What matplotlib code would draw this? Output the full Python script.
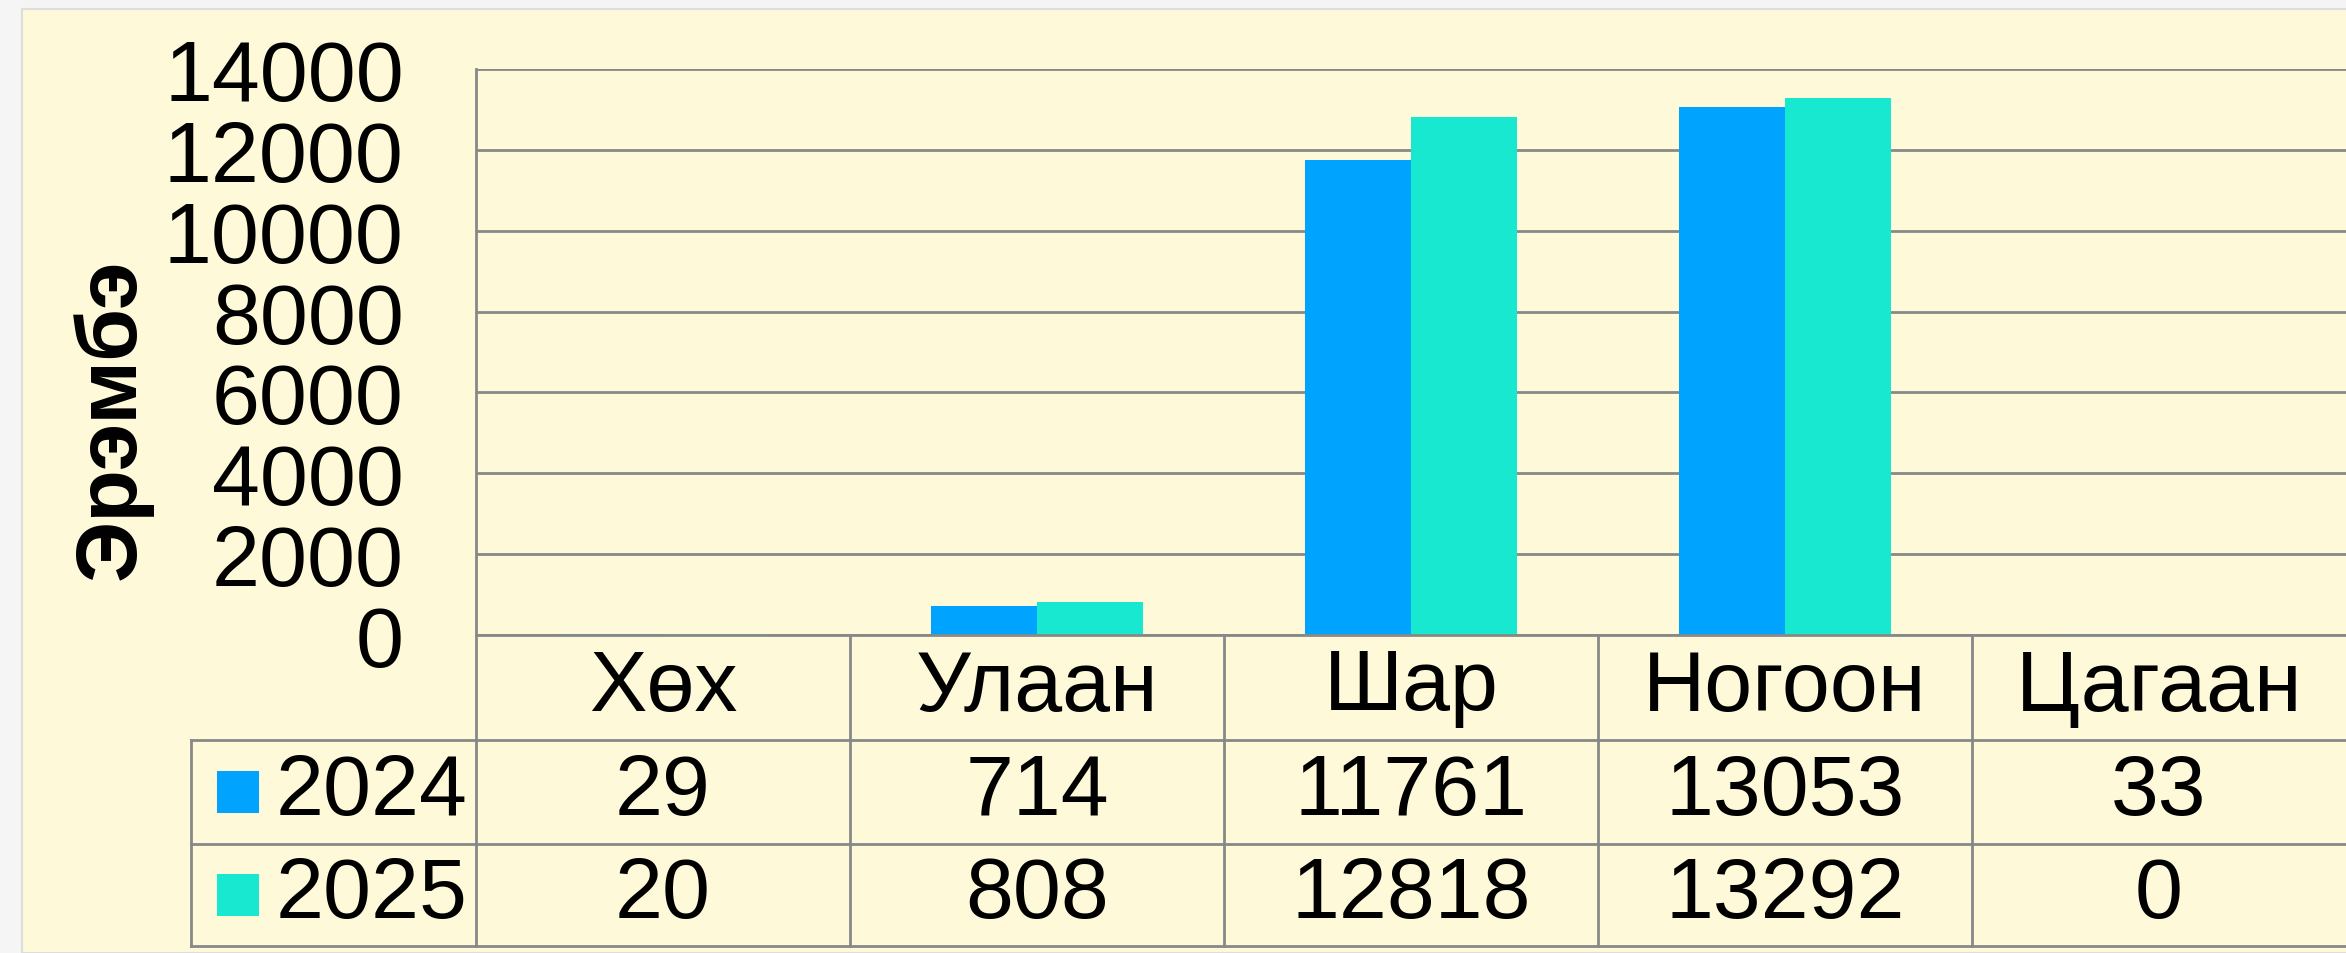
import matplotlib.pyplot as plt
from matplotlib.lines import Line2D
from matplotlib.patches import Rectangle
import matplotlib.transforms as mtransforms
import numpy as np

categories = ["Хөх", "Улаан", "Шар", "Ногоон", "Цагаан"]
years = ["2024", "2025"]
values_2024 = [29, 714, 11761, 13053, 33]
values_2025 = [20, 808, 12818, 13292, 0]
colors = ["#00A4FF", "#18E8D0"]

W, H = 2346, 954
FS = 62
plt.rcParams['font.family'] = ['Liberation Sans', 'DejaVu Sans']

fig = plt.figure(figsize=(W / 100, H / 100), dpi=100, facecolor="#F5F5F5")

# cream panel
fig.add_artist(Rectangle((22 / W, 0), 1, (H - 10) / H, transform=fig.transFigure,
                         facecolor="#FEF9D8", edgecolor="#DDDDDD", linewidth=1.5, zorder=0))

left, right, top, zero = 476, 2346, 70, 636
ax = fig.add_axes([left / W, (H - zero) / H, (right - left) / W, (zero - top) / H])
ax.set_facecolor("none")

x = np.arange(len(categories))
bw = 0.284
ax.bar(x - bw / 2, values_2024, bw, color=colors[0], zorder=3)
ax.bar(x + bw / 2, values_2025, bw, color=colors[1], zorder=3)

ax.set_xlim(-0.5, len(categories) - 0.5)
ax.set_ylim(0, 14000)
ax.set_yticks(range(0, 14001, 2000))
ax.tick_params(axis="y", length=0, labelsize=FS, pad=52)
ax.set_xticks([])
ax.grid(axis="y", color="#888888", linewidth=2, zorder=1)
for s in ["top", "right", "bottom"]:
    ax.spines[s].set_visible(False)
ax.spines["left"].set_color("#888888")
ax.spines["left"].set_linewidth(2)

ax.set_ylabel("Эрэмбэ", fontsize=FS, fontweight="bold", va="center")
ax.yaxis.set_label_coords((112 - left) / (right - left), (zero - 419) / (zero - top))

# data table below the chart
row_edges = [636, 741, 845, 947]
leg_left = 191
lc = "#888888"


def fy(py):
    return (H - py) / H


def hline(x0, x1, py):
    fig.add_artist(Line2D([x0 / W, x1 / W], [fy(py), fy(py)], color=lc, lw=2))


def vline(px, y0, y1):
    fig.add_artist(Line2D([px / W, px / W], [fy(y0), fy(y1)], color=lc, lw=2))


hline(left, W, row_edges[0])
for py in row_edges[1:]:
    hline(leg_left, W, py)
vline(leg_left, row_edges[1], row_edges[3])
vline(left, row_edges[0], row_edges[3])
for i in range(1, len(categories)):
    cx = ax.transData.transform((i - 0.5, 0))[0]
    vline(cx, row_edges[0], row_edges[3])

blend = mtransforms.blended_transform_factory(ax.transData, fig.transFigure)


def row_mid(r):
    return fy((row_edges[r] + row_edges[r + 1]) / 2)


for i, c in enumerate(categories):
    fig.text(i, row_mid(0), c, transform=blend, ha="center", va="center", fontsize=FS)
for r, vals in enumerate([values_2024, values_2025], start=1):
    for i, v in enumerate(vals):
        fig.text(i, row_mid(r), str(v), transform=blend, ha="center", va="center", fontsize=FS)
    fig.text(467 / W, row_mid(r), years[r - 1], ha="right", va="center", fontsize=FS)
    fig.add_artist(Rectangle((217 / W, row_mid(r) - 21 / H), 42 / W, 42 / H,
                             transform=fig.transFigure, facecolor=colors[r - 1], edgecolor="none"))

fig.savefig("out.png", dpi=100, facecolor=fig.get_facecolor())
